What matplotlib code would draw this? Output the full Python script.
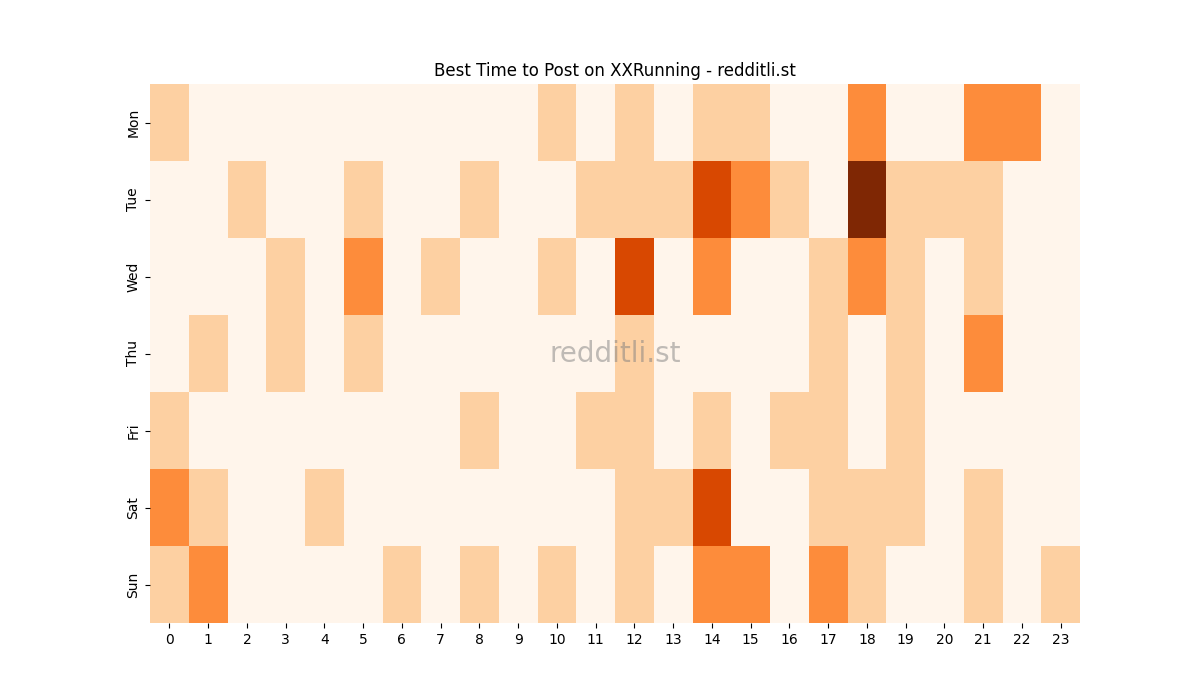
import matplotlib
matplotlib.use("Agg")
import matplotlib.pyplot as plt
import seaborn as sns
import numpy as np

days = ["Mon", "Tue", "Wed", "Thu", "Fri", "Sat", "Sun"]
hours = list(range(24))
mon = [1,0,0,0,0,0,0,0,0,0,1,0,1,0,1,1,0,0,2,0,0,2,2,0]
tue = [0,0,1,0,0,1,0,0,1,0,0,1,1,1,3,2,1,0,4,1,1,1,0,0]
wed = [0,0,0,1,0,2,0,1,0,0,1,0,3,0,2,0,0,1,2,1,0,1,0,0]
thu = [0,1,0,1,0,1,0,0,0,0,0,0,1,0,0,0,0,1,0,1,0,2,0,0]
fri = [1,0,0,0,0,0,0,0,1,0,0,1,1,0,1,0,1,1,0,1,0,0,0,0]
sat = [2,1,0,0,1,0,0,0,0,0,0,0,1,1,3,0,0,1,1,1,0,1,0,0]
sun = [1,2,0,0,0,0,1,0,1,0,1,0,1,0,2,2,0,2,1,0,0,1,0,1]

data = np.array([mon, tue, wed, thu, fri, sat, sun])

fig, ax = plt.subplots(figsize=(12, 7), dpi=100)
sns.heatmap(data, cmap="Oranges", vmin=0, vmax=4, cbar=False, ax=ax,
            xticklabels=hours, yticklabels=days)
ax.set_title("Best Time to Post on XXRunning - redditli.st")
ax.text(0.5, 0.5, "redditli.st", transform=ax.transAxes, ha="center", va="center",
        fontsize=20, color="grey", alpha=0.5)
fig.savefig("out.png")
